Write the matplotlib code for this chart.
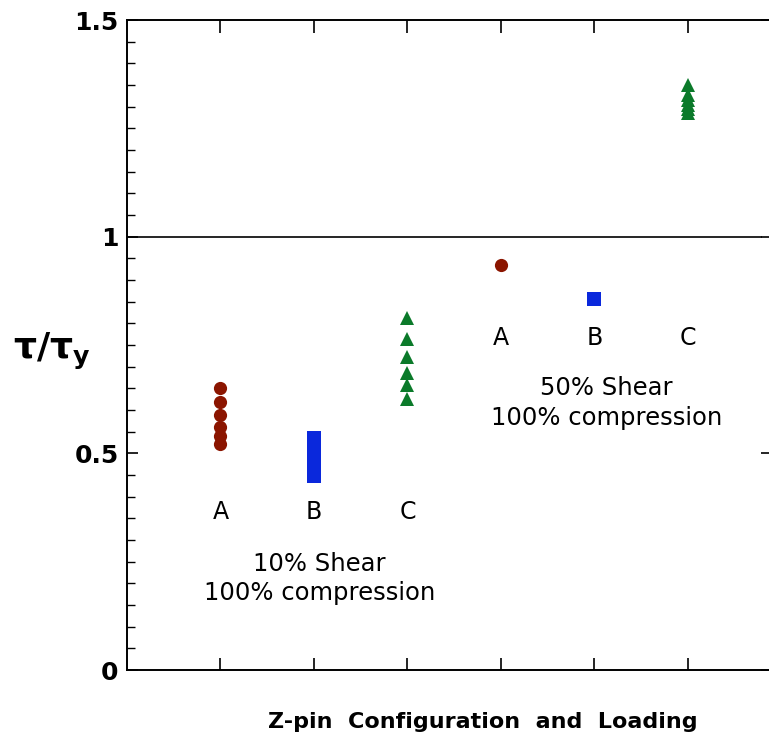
import matplotlib.pyplot as plt
from matplotlib.ticker import MultipleLocator, NullFormatter

# valeurs (tau / tau_y)
a10 = [0.650, 0.619, 0.589, 0.561, 0.541, 0.522]
b10 = [0.535, 0.513, 0.491, 0.469, 0.447]
c10 = [0.812, 0.764, 0.723, 0.686, 0.657, 0.626]
a50 = [0.935]
b50 = [0.857]
c50 = [1.350, 1.327, 1.316, 1.304, 1.295, 1.285]

x_pos = {"A10": 1, "B10": 2, "C10": 3, "A50": 4, "B50": 5, "C50": 6}
letters = ["A", "B", "C"]
yticks = [0, 0.5, 1, 1.5]
ytick_labels = ["0", "0.5", "1", "1.5"]

red = "#8b1500"
blue = "#0a28dc"
green = "#0b7a2a"

fig = plt.figure(figsize=(7.69, 7.47), dpi=100)
ax = fig.add_axes([0.165, 0.103, 1.004 - 0.165, 0.973 - 0.103])

ax.plot([x_pos["A10"]] * len(a10), a10, "o", color=red, ms=9.5, mew=0)
ax.plot([x_pos["B10"]] * len(b10), b10, "s", color=blue, ms=9.4, mew=0)
ax.plot([x_pos["C10"]] * len(c10), c10, "^", color=green, ms=10, mew=0)
ax.plot([x_pos["A50"]] * len(a50), a50, "o", color=red, ms=9.5, mew=0)
ax.plot([x_pos["B50"]] * len(b50), b50, "s", color=blue, ms=9.4, mew=0)
ax.plot([x_pos["C50"]] * len(c50), c50, "^", color=green, ms=10, mew=0)

ax.axhline(1.0, xmax=0.983, color="black", lw=1.2)

ax.set_xlim(0, 6.9)
ax.set_ylim(0, 1.5)

# lettres A B C sous chaque groupe
for i, l in enumerate(letters):
    ax.text(1 + i, 0.364, l, ha="center", va="center", fontsize=17)
    ax.text(4 + i, 0.766, l, ha="center", va="center", fontsize=17)

ax.text(2.06, 0.211, "10% Shear\n100% compression", ha="center", va="center",
        fontsize=17.5, linespacing=1.3)
ax.text(5.13, 0.616, "50% Shear\n100% compression", ha="center", va="center",
        fontsize=17.5, linespacing=1.3)

# axes: ticks vers l'interieur
ax.set_xticks([1, 2, 3, 4, 5, 6])
ax.xaxis.set_major_formatter(NullFormatter())
ax.tick_params(axis="x", direction="in", top=True, length=9, width=1.2)
ax.set_yticks(yticks)
ax.set_yticklabels(ytick_labels, fontsize=18, fontweight="bold")
ax.yaxis.set_minor_locator(MultipleLocator(0.05))
ax.tick_params(axis="y", which="major", direction="in", right=True,
               length=8, width=1.2, pad=6)
ax.tick_params(axis="y", which="minor", direction="in", length=6, width=1)

for s in ax.spines.values():
    s.set_linewidth(1.4)

fig.text(0.068, 0.53, r"$\mathbf{\tau/\tau_y}$", fontsize=26, ha="center", va="center")
fig.text(0.628, 0.033, "Z-pin  Configuration  and  Loading", fontsize=16,
         fontweight="bold", ha="center", va="center")

fig.savefig("out.png", dpi=100)
